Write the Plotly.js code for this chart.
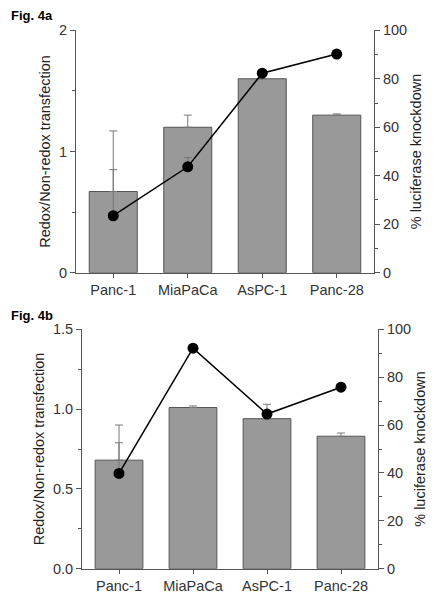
<!DOCTYPE html>
<html>
<head>
<meta charset="utf-8">
<script src="https://cdn.plot.ly/plotly-3.0.1.min.js"></script>
<style>html,body{margin:0;padding:0;background:#fff;}#chart{width:439px;height:600px;}</style>
</head>
<body>
<div id="chart"></div>
<script>
const categories = ['Panc-1', 'MiaPaCa', 'AsPC-1', 'Panc-28'];

// Fig. 4a
const ratioA = [0.67, 1.20, 1.60, 1.30];
const ratioErrA = [0.50, 0.10, 0.00, 0.01];
const knockA = [23.5, 43.7, 82.3, 90.2];
const knockErrA = [19.0, 3.8, 0, 0];

// Fig. 4b
const ratioB = [0.68, 1.01, 0.94, 0.83];
const ratioErrB = [0.22, 0.01, 0.09, 0.02];
const knockB = [39.8, 92.1, 64.6, 75.8];
const knockErrB = [12.8, 0, 0, 1.0];

const barColor = '#999999';
const barLine = '#555555';
const errColor = '#777777';
const axisColor = '#555555';
const textColor = '#333333';
const FONT = 'Liberation Sans, Arial, sans-serif';

function barTrace(y, err, xa, ya) {
  return {
    type: 'bar', x: categories, y: y, xaxis: xa, yaxis: ya,
    marker: {color: barColor, line: {color: barLine, width: 1}},
    error_y: {type: 'data', array: err, arrayminus: err.map(() => 0), symmetric: false,
              color: errColor, thickness: 1, width: 4},
    showlegend: false, hoverinfo: 'skip'
  };
}
function lineTrace(y, err, xa, ya) {
  return {
    type: 'scatter', mode: 'lines+markers', x: categories, y: y, xaxis: xa, yaxis: ya,
    line: {color: '#000000', width: 1.5},
    marker: {color: '#000000', size: 11},
    error_y: {type: 'data', array: err, arrayminus: err.map(() => 0), symmetric: false,
              color: errColor, thickness: 1, width: 4},
    showlegend: false, hoverinfo: 'skip'
  };
}

const data = [
  barTrace(ratioA, ratioErrA, 'x', 'y'),
  lineTrace(knockA, knockErrA, 'x', 'y2'),
  barTrace(ratioB, ratioErrB, 'x2', 'y3'),
  lineTrace(knockB, knockErrB, 'x2', 'y4')
];

const tickFont = {family: FONT, size: 14.5, color: textColor};
const titleFont = {family: FONT, size: 14.5, color: '#222222'};

function xAxis(domain, anchor) {
  return {
    domain: domain, anchor: anchor, type: 'category',
    showline: true, linecolor: axisColor, linewidth: 1,
    ticks: 'outside', ticklen: 4, tickcolor: axisColor,
    tickfont: tickFont, showgrid: false, zeroline: false, fixedrange: true
  };
}
function leftAxis(domain, anchor, range, dtick, minorDtick, fmt) {
  return {
    domain: domain, anchor: anchor, range: range, dtick: dtick, tick0: 0,
    tickformat: fmt,
    showline: true, linecolor: axisColor, linewidth: 1,
    ticks: 'outside', ticklen: 5, tickcolor: axisColor,
    minor: {dtick: minorDtick, ticks: 'outside', ticklen: 3, tickcolor: axisColor, showgrid: false},
    tickfont: tickFont, showgrid: false, zeroline: false, fixedrange: true,
    title: {text: 'Redox/Non-redox transfection', font: titleFont, standoff: 4}
  };
}
function rightAxis(domain, overlay, anchor) {
  return {
    domain: domain, overlaying: overlay, anchor: anchor, side: 'right',
    range: [0, 100], dtick: 20, tick0: 0,
    showline: true, linecolor: axisColor, linewidth: 1,
    ticks: 'outside', ticklen: 5, tickcolor: axisColor,
    minor: {dtick: 10, ticks: 'outside', ticklen: 3, tickcolor: axisColor, showgrid: false},
    tickfont: tickFont, showgrid: false, zeroline: false, fixedrange: true,
    title: {text: '% luciferase knockdown', font: titleFont, standoff: 4}
  };
}

const domAy = [1 - 272.7 / 600, 1 - 30.3 / 600];
const domBy = [1 - 568.7 / 600, 1 - 329.3 / 600];
const domAx = [76 / 439, 374 / 439];
const domBx = [82 / 439, 378 / 439];

const layout = {
  width: 439, height: 600,
  margin: {l: 0, r: 0, t: 0, b: 0},
  paper_bgcolor: '#ffffff', plot_bgcolor: '#ffffff',
  font: {family: FONT, color: textColor},
  bargap: 0.355,
  xaxis: xAxis(domAx, 'y'),
  yaxis: leftAxis(domAy, 'x', [0, 2], 1, 0.5, 'd'),
  yaxis2: rightAxis(domAy, 'y', 'x'),
  xaxis2: xAxis(domBx, 'y3'),
  yaxis3: leftAxis(domBy, 'x2', [0, 1.5], 0.5, 0.25, '.1f'),
  yaxis4: rightAxis(domBy, 'y3', 'x2'),
  annotations: [
    {text: '<b>Fig. 4a</b>', xref: 'paper', yref: 'paper', x: 9 / 439, y: 1 - 15.5 / 600,
     xanchor: 'left', yanchor: 'middle', showarrow: false,
     font: {family: FONT, size: 13, color: '#000000'}},
    {text: '<b>Fig. 4b</b>', xref: 'paper', yref: 'paper', x: 9 / 439, y: 1 - 315.5 / 600,
     xanchor: 'left', yanchor: 'middle', showarrow: false,
     font: {family: FONT, size: 13, color: '#000000'}}
  ]
};

Plotly.newPlot('chart', data, layout, {staticPlot: true, displayModeBar: false});
</script>
</body>
</html>
